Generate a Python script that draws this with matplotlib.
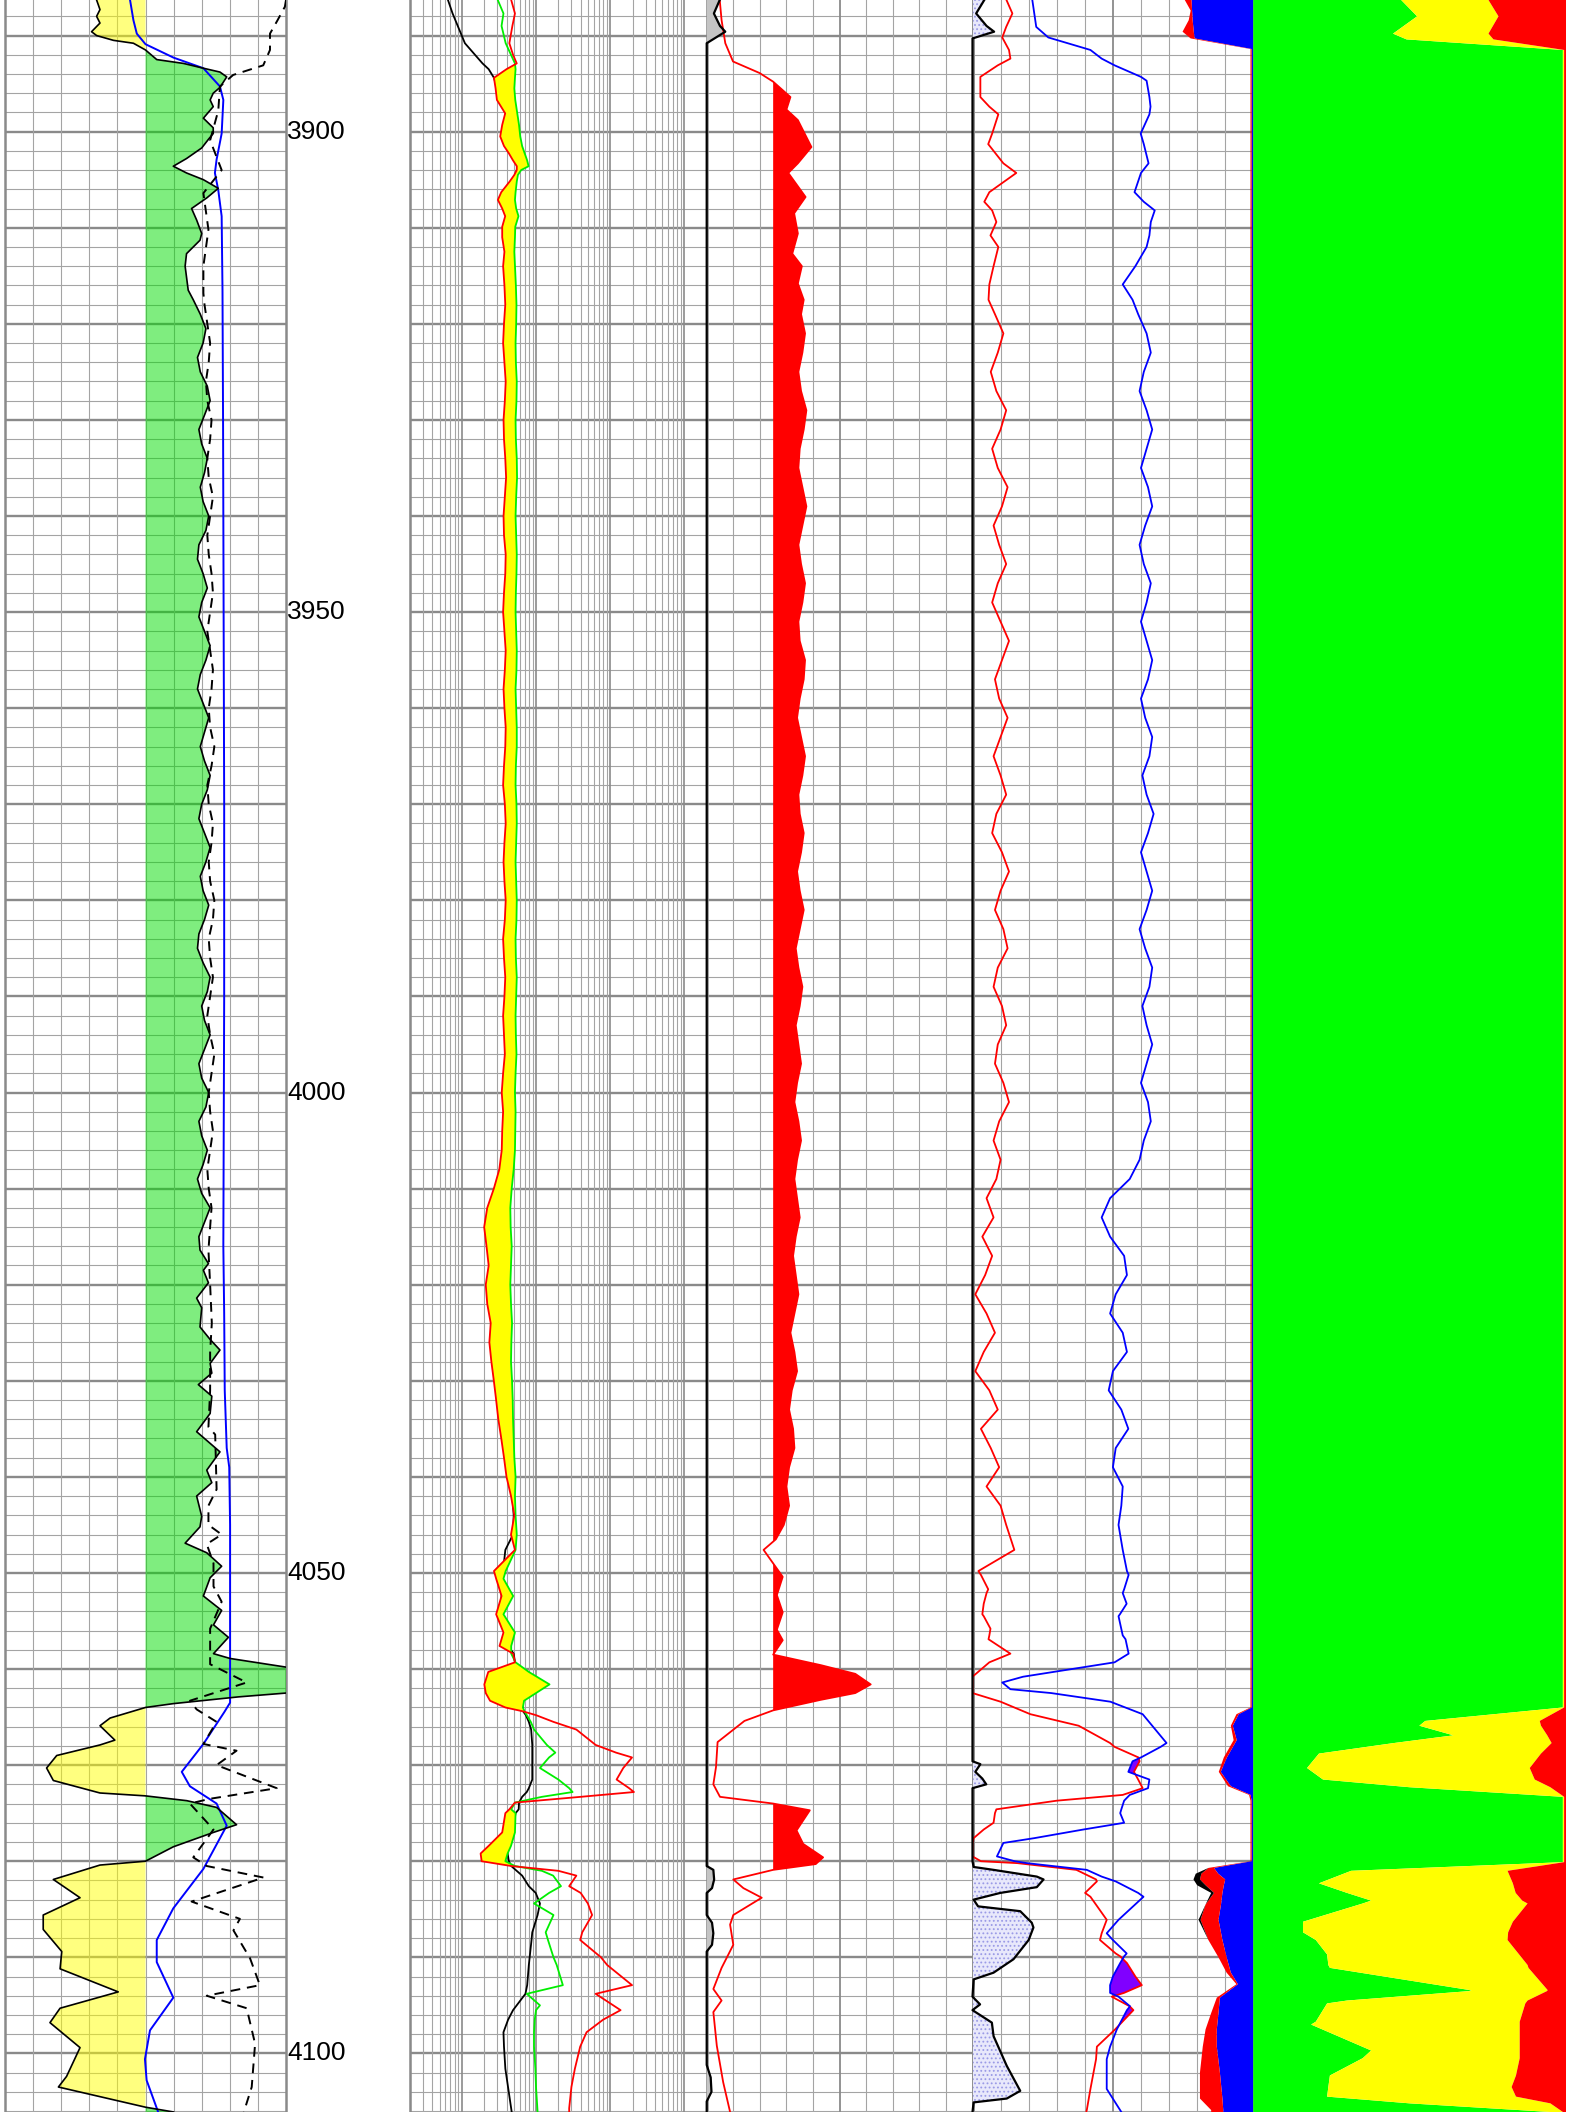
import matplotlib
matplotlib.use('Agg')
import matplotlib.pyplot as plt
import matplotlib.transforms as mtransforms
import numpy as np

plt.rcParams.update({
    'font.family': ['Liberation Sans', 'DejaVu Sans'],
    'hatch.linewidth': 0.8,
})

W, H = 1579, 2112
TOP, BASE = 3886.3, 4106.1

# ── Track 1: (depth, value in divisions 0-10) ───────────────
gr = [
    (3886.3, 3.26), (3887.3, 3.38), (3888.0, 3.26), (3888.7, 3.38), (3889.6, 3.08),
    (3890.0, 3.26), (3890.5, 3.86), (3890.8, 4.57), (3891.5, 5.0), (3892.5, 5.4),
    (3892.9, 6.35), (3893.4, 7.06), (3893.8, 7.65), (3894.3, 7.89), (3895.4, 7.65),
    (3896.0, 7.41), (3896.7, 7.30), (3897.4, 7.41), (3898.6, 7.06), (3899.6, 7.41),
    (3900.2, 7.41), (3900.8, 7.24), (3901.7, 7.00), (3902.8, 6.46), (3903.6, 5.99),
    (3904.3, 6.46), (3905.0, 7.06), (3905.9, 7.59), (3906.9, 7.18), (3908.0, 6.64),
    (3909.2, 6.82), (3910.6, 7.00), (3911.3, 6.94), (3912.7, 6.46), (3914.0, 6.41),
    (3916.5, 6.52), (3917.5, 6.7), (3919.0, 6.95), (3920.5, 7.15), (3922.0, 7.05),
    (3923.5, 6.85), (3925.0, 6.95), (3926.5, 7.2), (3928.0, 7.3), (3929.5, 7.1),
    (3931.0, 6.9), (3932.5, 7.0), (3934.0, 7.2), (3935.5, 7.1), (3937.0, 6.95),
    (3938.5, 7.05), (3940.0, 7.25), (3941.5, 7.15), (3943.0, 6.9), (3944.5, 6.85),
    (3946.0, 7.05), (3947.5, 7.2), (3949.0, 7.0), (3950.5, 6.9), (3952.0, 7.1),
    (3953.5, 7.3), (3955.0, 7.15), (3956.5, 6.95), (3958.0, 6.85), (3959.5, 7.05),
    (3961.0, 7.25), (3962.5, 7.1), (3964.0, 6.95), (3965.5, 7.1), (3967.0, 7.3),
    (3968.5, 7.2), (3970.0, 7.0), (3971.5, 6.9), (3973.0, 7.1), (3974.5, 7.3),
    (3976.0, 7.15), (3977.5, 6.95), (3979.0, 7.05), (3980.5, 7.25), (3982.0, 7.1),
    (3983.5, 6.9), (3985.0, 6.85), (3986.5, 7.05), (3988.0, 7.3), (3989.5, 7.2),
    (3991.0, 7.0), (3992.5, 7.1), (3994.0, 7.3), (3995.5, 7.1), (3997.0, 6.9),
    (3998.5, 7.0), (4000.0, 7.25), (4001.5, 7.15), (4003.0, 6.9), (4004.5, 7.0),
    (4006.0, 7.2), (4007.5, 7.05), (4009.0, 6.85), (4010.5, 7.0), (4012.0, 7.3),
    (4013.5, 7.1), (4015.0, 6.9), (4016.4, 6.94), (4017.8, 7.24), (4018.5, 7.06),
    (4019.8, 7.24), (4021.4, 6.82), (4022.4, 7.0), (4024.4, 6.94), (4025.7, 7.3),
    (4026.8, 7.65), (4028.2, 7.3), (4029.2, 7.36), (4030.4, 6.88), (4031.6, 7.36),
    (4033.4, 7.3), (4035.3, 6.82), (4037.4, 7.65), (4039.3, 7.18), (4040.6, 7.36),
    (4042.0, 6.82), (4044.1, 7.0), (4045.2, 6.94), (4046.9, 6.41), (4047.9, 7.18),
    (4049.3, 7.71), (4050.5, 7.3), (4052.4, 7.06), (4053.9, 7.71), (4055.4, 7.42),
    (4056.7, 7.95), (4058.4, 7.42), (4058.9, 8.01), (4059.8, 10.0), (4061.0, 12.0),
    (4062.5, 10.0), (4062.9, 8.3), (4063.6, 5.99), (4064.0, 5.0), (4065.1, 3.74),
    (4065.9, 3.38), (4067.4, 3.91), (4067.9, 3.38), (4069.0, 1.84), (4070.3, 1.48),
    (4071.6, 1.72), (4072.9, 3.38), (4073.2, 5.0), (4073.7, 6.47), (4074.4, 7.53),
    (4076.2, 8.24), (4077.0, 7.42), (4078.5, 5.99), (4080.0, 5.0), (4080.4, 3.38),
    (4081.9, 1.72), (4083.8, 2.67), (4085.6, 1.36), (4087.1, 1.36), (4089.4, 2.02),
    (4091.2, 1.96), (4093.6, 4.03), (4095.3, 1.96), (4096.8, 1.60), (4099.4, 2.67),
    (4102.4, 2.19), (4103.5, 1.90), (4105.6, 5.0), (4106.1, 6.0),
]

t1_blue = [
    (3886.3, 4.45), (3888.4, 4.57), (3889.8, 4.69), (3890.9, 5.0), (3892.3, 6.0),
    (3893.4, 7.06), (3895.3, 7.65), (3896.7, 7.77), (3900.2, 7.71), (3902.9, 7.53),
    (3904.3, 7.47), (3906.1, 7.59), (3908.8, 7.71), (3916.5, 7.74), (3930.0, 7.76),
    (3950.0, 7.78), (3970.0, 7.80), (3990.0, 7.80), (4016.0, 7.77), (4023.0, 7.80),
    (4031.0, 7.82), (4037.0, 7.89), (4039.0, 7.98), (4045.0, 8.01), (4058.8, 8.01),
    (4063.5, 8.01), (4064.5, 7.8), (4067.8, 7.06), (4070.7, 6.29), (4072.2, 6.58),
    (4074.0, 7.53), (4076.3, 7.89), (4080.8, 7.06), (4084.9, 5.99), (4088.2, 5.40),
    (4090.5, 5.40), (4094.2, 5.99), (4097.6, 5.16), (4100.6, 4.98), (4102.8, 5.04),
    (4106.1, 5.45),
]

t1_dash = [
    (3886.3, 10.0), (3887.0, 9.96), (3888.4, 9.7), (3889.8, 9.43), (3891.5, 9.43),
    (3893.1, 9.19), (3894.1, 8.12), (3895.3, 7.65), (3897.8, 7.59), (3900.9, 7.3),
    (3904.0, 7.71), (3906.4, 7.06), (3910.2, 7.24), (3914.0, 7.06), (3916.8, 7.06),
    (3918, 7.1), (3920, 7.2), (3922, 7.3), (3924, 7.25), (3926, 7.15), (3928, 7.2),
    (3930, 7.35), (3932, 7.3), (3934, 7.2), (3936, 7.25), (3938, 7.4), (3940, 7.3),
    (3942, 7.2), (3944, 7.25), (3946, 7.35), (3948, 7.4), (3950, 7.3), (3952, 7.2),
    (3954, 7.3), (3956, 7.4), (3958, 7.35), (3960, 7.25), (3962, 7.3), (3964, 7.45),
    (3966, 7.35), (3968, 7.2), (3970, 7.25), (3972, 7.4), (3974, 7.35), (3976, 7.25),
    (3978, 7.3), (3980, 7.45), (3982, 7.4), (3984, 7.25), (3986, 7.3), (3988, 7.4),
    (3990, 7.3), (3992, 7.2), (3994, 7.3), (3996, 7.45), (3998, 7.35), (4000, 7.25),
    (4002, 7.3), (4004, 7.4), (4006, 7.3), (4008, 7.2), (4010, 7.25), (4012, 7.35),
    (4014, 7.3), (4016.4, 7.24), (4020, 7.3), (4024, 7.36), (4027, 7.3), (4031, 7.3),
    (4034.8, 7.24), (4035.6, 7.48), (4041.3, 7.53), (4043, 7.24), (4045, 7.24),
    (4046, 7.71), (4047, 7.18), (4049, 7.42), (4051.4, 7.42), (4053.0, 7.71),
    (4055.8, 7.3), (4059.5, 7.3), (4061.4, 8.6), (4063.3, 6.58), (4064.2, 6.82),
    (4065.5, 7.53), (4067.8, 7.06), (4068.5, 8.24), (4070.0, 7.53), (4072.4, 9.67),
    (4073.5, 7.3), (4074.0, 6.58), (4076.7, 7.42), (4079.6, 6.7), (4080.5, 7.18),
    (4081.7, 9.2), (4084.2, 6.64), (4086.0, 8.36), (4087.2, 8.13), (4090.1, 8.72),
    (4092.9, 9.07), (4094.0, 7.18), (4095.3, 8.6), (4099.0, 8.9), (4103.5, 8.78),
    (4106.1, 8.5),
]

# ── Track 2: (depth, red, green, black) in ohm.m, log 0.2-2000 ──
t2 = [
    (3886.3, 4.63, 3.05, 0.65), (3887.7, 5.2, 3.64, 0.75), (3889.0, 4.8, 3.43, 0.88),
    (3890.8, 4.37, 3.9, 1.1), (3892.0, 4.9, 4.6, 1.5), (3892.9, 5.5, 5.2, 1.9),
    (3893.5, 4.0, 5.3, 2.3), (3894.4, 2.71, 5.2, 2.71), (3895.5, 2.85, 5.1, 3.0),
    (3896.7, 2.97, 5.25, 3.3), (3898.1, 3.84, 5.6, 4.2), (3899.3, 3.5, 5.9, 4.2),
    (3900.5, 3.29, 6.13, 4.0), (3901.5, 3.7, 6.5, 4.5), (3902.2, 4.26, 7.0, 5.0),
    (3903.0, 4.9, 7.6, 5.3), (3903.6, 5.51, 7.94, 5.6), (3904.0, 5.5, 6.3, 5.5),
    (3904.5, 5.1, 5.7, 5.3), (3905.2, 4.4, 5.5, 4.8), (3906.3, 3.4, 5.3, 4.2),
    (3907.1, 3.06, 5.2, 4.0), (3908.0, 3.5, 5.4, 4.3), (3908.8, 3.84, 5.8, 4.5),
    (3909.9, 3.5, 5.25, 4.2), (3911.0, 3.5, 5.2, 4.2), (3912.5, 3.75, 5.1, 4.3),
    (3914, 3.6, 5.2, 4.4), (3916, 3.75, 5.35, 4.55), (3918, 3.85, 5.45, 4.65),
    (3920, 3.7, 5.4, 4.5), (3922, 3.6, 5.3, 4.4), (3924, 3.75, 5.35, 4.55),
    (3926, 3.9, 5.5, 4.7), (3928, 3.8, 5.45, 4.6), (3930, 3.65, 5.3, 4.45),
    (3932, 3.7, 5.35, 4.5), (3934, 3.85, 5.5, 4.65), (3936, 3.95, 5.55, 4.75),
    (3938, 3.8, 5.4, 4.6), (3940, 3.65, 5.3, 4.45), (3942, 3.7, 5.4, 4.5),
    (3944, 3.9, 5.5, 4.7), (3946, 3.85, 5.45, 4.65), (3948, 3.7, 5.35, 4.5),
    (3950, 3.6, 5.3, 4.4), (3952, 3.75, 5.4, 4.55), (3954, 3.9, 5.5, 4.7),
    (3956, 3.8, 5.45, 4.6), (3958, 3.65, 5.3, 4.45), (3960, 3.75, 5.4, 4.55),
    (3962, 3.9, 5.5, 4.7), (3964, 3.85, 5.5, 4.65), (3966, 3.7, 5.35, 4.5),
    (3968, 3.6, 5.3, 4.4), (3970, 3.8, 5.45, 4.6), (3972, 3.9, 5.5, 4.7),
    (3974, 3.75, 5.4, 4.55), (3976, 3.65, 5.3, 4.45), (3978, 3.75, 5.4, 4.55),
    (3980, 3.9, 5.5, 4.7), (3982, 3.8, 5.45, 4.6), (3984, 3.6, 5.3, 4.4),
    (3986, 3.7, 5.35, 4.5), (3988, 3.85, 5.5, 4.65), (3990, 3.75, 5.4, 4.55),
    (3992, 3.6, 5.3, 4.4), (3994, 3.7, 5.35, 4.5), (3996, 3.8, 5.45, 4.6),
    (3998, 3.6, 5.3, 4.4), (4000, 3.45, 5.2, 4.3), (4002, 3.6, 5.3, 4.4),
    (4004, 3.5, 5.25, 4.35), (4006, 3.45, 5.2, 4.3), (4008, 3.2, 5.0, 4.1),
    (4010, 2.7, 4.7, 3.6), (4012, 2.2, 4.5, 3.2), (4014, 2.0, 4.55, 3.0),
    (4016, 2.15, 4.7, 3.2), (4018, 2.3, 4.6, 3.3), (4020, 2.1, 4.5, 3.1),
    (4022, 2.2, 4.6, 3.2), (4024, 2.45, 4.75, 3.4), (4026, 2.35, 4.65, 3.3),
    (4028, 2.5, 4.6, 3.4), (4030, 2.7, 4.75, 3.6), (4032, 2.9, 4.85, 3.8),
    (4034, 3.1, 4.9, 3.95), (4036, 3.4, 5.0, 4.1), (4038, 3.7, 5.1, 4.3),
    (4040, 4.0, 5.3, 4.6), (4042, 4.6, 5.2, 4.8), (4044, 5.1, 5.3, 5.0),
    (4046, 4.6, 5.5, 4.9),
    (4047.6, 5.2, 5.3, 3.86), (4049.8, 2.71, 3.9, 3.6), (4050.6, 2.9, 3.64, 3.5),
    (4052.4, 3.43, 4.92, 3.43), (4054.3, 2.9, 3.64, 3.43), (4056.2, 3.64, 5.2, 3.8),
    (4057.6, 3.22, 4.63, 4.2), (4058.4, 4.92, 4.63, 5.0), (4059.3, 5.2, 5.3, 5.2),
    (4060.3, 2.27, 8.0, 5.6), (4061.6, 2.01, 15.2, 6.0), (4062.5, 2.1, 10.0, 6.3),
    (4063.3, 2.4, 6.9, 6.6), (4064.0, 3.86, 6.65, 6.65), (4064.4, 6.65, 7.0, 6.7),
    (4064.8, 10.0, 7.5, 7.3), (4065.5, 17.2, 8.5, 8.0), (4066.3, 35.0, 9.4, 8.6),
    (4067.9, 63.7, 14.0, 8.9), (4068.7, 120.0, 18.2, 8.9), (4069.2, 197.0, 15.0, 8.9),
    (4070.3, 150.0, 11.3, 8.9), (4071.5, 122.0, 20.0, 8.9), (4072.4, 180.0, 28.0, 8.0),
    (4072.8, 209.0, 31.1, 7.5), (4073.3, 40.0, 12.0, 6.5), (4073.9, 5.2, 5.2, 5.9),
    (4074.6, 4.37, 4.63, 5.84), (4075.0, 3.86, 5.3, 5.3), (4077.0, 3.5, 5.2, 4.8),
    (4078.4, 2.3, 4.6, 4.3), (4079.2, 1.79, 4.14, 4.14), (4080.0, 1.85, 3.86, 4.3),
    (4080.5, 4.63, 5.2, 4.63), (4081.0, 20.0, 12.0, 5.5), (4081.5, 35.0, 17.0, 6.5),
    (4082.6, 28.0, 21.7, 8.0), (4083.3, 40.0, 15.0, 9.9), (4084.4, 50.0, 9.4, 11.3),
    (4085.6, 57.0, 17.2, 10.5), (4087.4, 42.0, 13.5, 8.9), (4088.2, 39.4, 14.5, 8.7),
    (4090.0, 75.0, 17.2, 8.2), (4090.8, 91.0, 19.0, 8.0), (4092.9, 197.0, 23.0, 7.6),
    (4093.8, 63.7, 7.5, 7.2), (4095.0, 110.0, 11.3, 5.5), (4095.5, 138.0, 10.0, 4.9),
    (4096.5, 80.0, 9.6, 4.2), (4097.8, 48.0, 9.4, 3.64), (4099.3, 39.4, 9.4, 3.7),
    (4101.6, 33.4, 9.8, 3.86), (4103.5, 30.0, 10.0, 4.2), (4105.7, 28.0, 10.4, 4.63),
    (4106.1, 28.0, 10.5, 4.7),
]

# ── Track 3: red (fill cut-off 2.5) and black, divisions 0-10 ──
t3_red = [
    (3886.3, 0.49), (3888.4, 0.56), (3890.8, 0.70), (3892.7, 0.99), (3893.9, 1.99),
    (3894.8, 2.5), (3896.4, 3.15), (3897.7, 3.0), (3898.8, 3.43), (3901.6, 3.94),
    (3903.3, 3.43), (3904.3, 3.07), (3906.8, 3.72), (3908.5, 3.29), (3910.6, 3.43),
    (3912.7, 3.22), (3914.0, 3.58), (3915.8, 3.43), (3917.5, 3.65),
    (3919, 3.55), (3921, 3.7), (3923, 3.6), (3925, 3.45), (3927, 3.55), (3929, 3.75),
    (3931, 3.65), (3933, 3.5), (3935, 3.45), (3937, 3.6), (3939, 3.75), (3941, 3.6),
    (3943, 3.45), (3945, 3.55), (3947, 3.7), (3949, 3.6), (3951, 3.45), (3953, 3.5),
    (3955, 3.7), (3957, 3.65), (3959, 3.5), (3961, 3.4), (3963, 3.55), (3965, 3.7),
    (3967, 3.6), (3969, 3.45), (3971, 3.5), (3973, 3.65), (3975, 3.55), (3977, 3.4),
    (3979, 3.5), (3981, 3.65), (3983, 3.5), (3985, 3.35), (3987, 3.45), (3989, 3.6),
    (3991, 3.5), (3993, 3.35), (3995, 3.45), (3997, 3.55), (3999, 3.4), (4001, 3.3),
    (4003, 3.45), (4005, 3.55), (4007, 3.4), (4009, 3.3), (4011, 3.4), (4013, 3.5),
    (4015, 3.35), (4017, 3.25), (4019, 3.35), (4021, 3.45), (4023, 3.3), (4025, 3.15),
    (4027, 3.3), (4029, 3.4), (4031, 3.2), (4033, 3.1), (4035, 3.25), (4037, 3.3),
    (4039, 3.1), (4041, 3.0), (4043, 3.1), (4045, 2.9), (4046.5, 2.6),
    (4047.6, 2.14), (4049.0, 2.5), (4050.4, 2.86), (4052.3, 2.64), (4054.1, 2.86),
    (4055.9, 2.64), (4057.0, 2.86), (4058.5, 2.5), (4059.6, 4.3), (4060.5, 5.59),
    (4061.6, 6.17), (4062.5, 5.59), (4063.2, 4.3), (4064.3, 2.5), (4065.4, 1.42),
    (4067.6, 0.41), (4070.2, 0.35), (4072.0, 0.25), (4073.3, 0.5), (4074.0, 2.5),
    (4074.7, 3.88), (4076.8, 3.38), (4078.2, 3.63), (4079.6, 4.38), (4080.3, 4.1),
    (4080.9, 2.5), (4081.9, 1.0), (4082.8, 1.38), (4083.8, 2.07), (4085.6, 1.0),
    (4086.6, 0.88), (4088.7, 1.0), (4091.1, 0.56), (4093.3, 0.25), (4094.5, 0.56),
    (4095.7, 0.25), (4099.2, 0.38), (4103.0, 0.62), (4106.1, 0.88),
]

t3_black = [
    (3886.3, 0.49), (3887.7, 0.27), (3889.0, 0.5), (3889.6, 0.7), (3890.8, 0.0),
    (4080.5, 0.0), (4080.9, 0.25), (4081.9, 0.28), (4082.8, 0.2), (4083.3, 0.0),
    (4085.6, 0.0), (4086.4, 0.2), (4087.5, 0.25), (4088.7, 0.2), (4089.4, 0.0),
    (4101.2, 0.0), (4102.5, 0.15), (4104.0, 0.18), (4105.0, 0.0), (4106.1, 0.0),
]

# ── Track 4: (depth, red, blue), divisions 0-10 ─────────────
t4 = [
    (3886.3, 1.21, 2.13), (3887.7, 1.42, 2.2), (3889.1, 1.2, 2.27), (3890.2, 1.06, 2.7),
    (3891.5, 1.3, 4.2), (3892.4, 1.35, 4.6), (3893.1, 0.9, 5.06), (3894.3, 0.28, 6.0),
    (3894.7, 0.28, 6.2), (3896.4, 0.28, 6.3), (3897.4, 0.6, 6.34), (3898.2, 0.92, 6.3),
    (3900.2, 0.7, 5.99), (3901.3, 0.56, 6.1), (3903.3, 1.1, 6.27), (3904.3, 1.56, 6.0),
    (3906.3, 0.6, 5.77), (3907.3, 0.42, 6.1), (3908.2, 0.7, 6.49), (3909.4, 0.85, 6.35),
    (3910.8, 0.64, 6.3), (3912.0, 0.92, 6.2), (3914.0, 0.75, 5.8), (3915.9, 0.6, 5.35),
    (3917.5, 0.57, 5.7),
    (3919, 0.8, 5.9), (3921, 1.1, 6.2), (3923, 0.9, 6.35), (3925, 0.65, 6.1),
    (3927, 0.85, 5.95), (3929, 1.2, 6.2), (3931, 1.0, 6.4), (3933, 0.7, 6.2),
    (3935, 0.9, 6.0), (3937, 1.25, 6.25), (3939, 1.05, 6.4), (3941, 0.75, 6.15),
    (3943, 0.95, 5.95), (3945, 1.2, 6.1), (3947, 0.9, 6.35), (3949, 0.7, 6.2),
    (3951, 1.0, 6.0), (3953, 1.3, 6.2), (3955, 1.05, 6.4), (3957, 0.8, 6.25),
    (3959, 0.95, 6.0), (3961, 1.25, 6.15), (3963, 1.0, 6.4), (3965, 0.75, 6.3),
    (3967, 1.0, 6.05), (3969, 1.2, 6.2), (3971, 0.85, 6.45), (3973, 0.7, 6.25),
    (3975, 1.05, 6.0), (3977, 1.3, 6.2), (3979, 1.0, 6.4), (3981, 0.8, 6.2),
    (3983, 1.1, 5.95), (3985, 1.25, 6.15), (3987, 0.9, 6.4), (3989, 0.75, 6.3),
    (3991, 1.05, 6.05), (3993, 1.2, 6.2), (3995, 0.9, 6.4), (3997, 0.8, 6.2),
    (3999, 1.1, 6.0), (4001, 1.3, 6.25), (4003, 0.95, 6.35), (4005, 0.75, 6.1),
    (4007, 1.0, 5.95), (4009, 0.85, 5.6), (4011, 0.5, 4.9), (4013, 0.75, 4.6),
    (4015, 0.35, 4.9), (4017, 0.7, 5.4), (4019, 0.45, 5.5), (4021, 0.1, 5.1),
    (4023, 0.5, 4.9), (4025, 0.8, 5.35), (4027, 0.4, 5.5), (4029, 0.1, 5.0),
    (4031, 0.6, 4.85), (4033, 0.9, 5.3), (4035, 0.3, 5.55), (4037, 0.65, 5.1),
    (4039, 0.95, 5.0), (4041, 0.5, 5.35), (4043, 1.0, 5.3), (4045, 1.2, 5.2),
    (4047.6, 1.49, 5.35), (4049.8, 0.21, 5.5), (4050.2, 0.3, 5.56), (4051.7, 0.56, 5.4),
    (4052.1, 0.5, 5.35), (4053.2, 0.4, 5.49), (4054.3, 0.35, 5.25), (4054.5, 0.4, 5.2),
    (4055.8, 0.64, 5.3), (4056.5, 0.6, 5.35), (4056.9, 0.57, 5.45), (4058.4, 1.35, 5.56),
    (4059.3, 0.6, 5.06), (4060.8, 0.0, 1.8), (4061.4, 0.0, 1.06), (4062.1, 0.0, 1.35),
    (4062.5, 0.0, 2.8), (4063.4, 1.0, 4.91), (4064.7, 2.06, 6.06), (4065.9, 3.78, 6.4),
    (4067.7, 4.9, 6.91), (4068.1, 5.06, 6.7), (4069.2, 5.91, 6.0), (4069.6, 5.95, 5.7),
    (4070.7, 5.75, 5.55), (4071.5, 5.9, 6.3), (4072.4, 6.06, 6.25), (4073.1, 5.35, 5.6),
    (4073.7, 3.0, 5.4), (4074.6, 0.85, 5.3), (4075.0, 0.8, 5.26), (4076.0, 0.75, 5.4),
    (4076.7, 0.4, 3.95), (4077.6, 0.04, 2.2), (4078.1, 0.0, 1.1), (4079.5, 0.0, 0.87),
    (4080.0, 0.3, 1.5), (4080.2, 1.6, 1.94), (4080.9, 3.7, 4.07), (4081.6, 4.19, 4.6),
    (4081.9, 4.4, 4.9), (4082.1, 4.43, 5.1), (4083.3, 4.01, 5.9), (4083.7, 4.2, 6.09),
    (4086.1, 4.78, 5.2), (4087.5, 4.6, 4.78), (4088.2, 4.54, 5.0), (4089.6, 5.1, 5.49),
    (4089.9, 5.26, 5.4), (4090.6, 5.5, 5.26), (4092.0, 5.8, 5.0), (4092.9, 6.03, 4.9),
    (4093.7, 5.4, 4.9), (4094.1, 4.96, 5.2), (4095.1, 5.6, 5.61), (4095.5, 5.73, 5.5),
    (4097.5, 5.08, 5.14), (4099.3, 4.43, 4.9), (4100.6, 4.4, 4.78), (4102.0, 4.31, 4.78),
    (4103.7, 4.2, 4.78), (4105.9, 4.07, 5.26), (4106.1, 4.05, 5.3),
]

t4_black = [
    (3886.3, 0.42), (3887.7, 0.13), (3889.0, 0.5), (3889.6, 0.77), (3890.3, 0.0),
    (4069.6, 0.0), (4069.9, 0.28), (4070.7, 0.1), (4071.4, 0.35), (4072.0, 0.49),
    (4072.4, 0.0), (4080.0, 0.0), (4080.6, 0.04), (4080.9, 0.75), (4081.6, 2.29),
    (4081.9, 2.53), (4082.7, 2.29), (4083.3, 0.99), (4084.0, 0.04), (4084.7, 0.2),
    (4085.2, 1.7), (4086.4, 2.11), (4086.9, 2.17), (4088.2, 2.0), (4090.2, 1.46),
    (4091.6, 0.75), (4092.3, 0.04), (4094.1, 0.0), (4094.9, 0.27), (4095.5, 0.0),
    (4096.8, 0.69), (4098.2, 0.75), (4101.3, 1.22), (4103.9, 1.7), (4104.7, 1.22),
    (4105.1, 0.04), (4106.1, 0.0),
]

# stacked fills at right of track 4: (depth, blue left, red left, black left)
t4_stack = [
    (3886.3, 7.8, 7.56, 7.56), (3887.4, 7.82, 7.77, 7.77), (3888.4, 7.84, 7.7, 7.7),
    (3889.6, 7.88, 7.48, 7.48), (3890.3, 7.91, 7.77, 7.77), (3891.4, 9.94, 9.9, 9.9),
    (4064.0, 9.94, 9.9, 9.9), (4064.7, 9.48, 9.4, 9.4), (4065.9, 9.27, 9.2, 9.2),
    (4067.4, 9.41, 9.3, 9.3), (4069.2, 9.06, 8.95, 8.95), (4070.7, 8.84, 8.77, 8.77),
    (4072.2, 9.2, 9.1, 9.1), (4073.1, 9.9, 9.85, 9.85), (4073.7, 9.94, 9.9, 9.9),
    (4080.0, 9.94, 9.9, 9.9), (4080.7, 8.6, 8.4, 8.4), (4081.3, 8.75, 8.15, 7.95),
    (4081.9, 9.0, 8.1, 7.87), (4082.5, 8.95, 8.3, 8.0), (4083.3, 8.9, 8.6, 8.5),
    (4084.5, 8.85, 8.3, 8.3), (4086.1, 8.76, 8.12, 8.05), (4088.2, 8.9, 8.4, 8.4),
    (4090.0, 9.05, 8.76, 8.76), (4091.6, 9.2, 9.05, 9.05), (4092.8, 9.45, 9.4, 9.4),
    (4094.2, 8.81, 8.7, 8.7), (4095.8, 8.76, 8.5, 8.5), (4097.5, 8.7, 8.3, 8.3),
    (4099.3, 8.7, 8.2, 8.2), (4102.0, 8.81, 8.1, 8.1), (4104.7, 8.9, 8.1, 8.1),
    (4105.9, 8.93, 8.5, 8.5), (4106.1, 8.93, 8.5, 8.5),
]

# ── Track 5: (depth, yellow left, red left) as fractions of width ──
t5 = [
    (3886.3, 0.473, 0.752), (3888.0, 0.524, 0.784), (3889.8, 0.447, 0.752),
    (3890.4, 0.49, 0.768), (3891.5, 0.99, 0.994), (4064.0, 0.99, 0.994),
    (4065.4, 0.55, 0.916), (4065.9, 0.531, 0.92), (4066.9, 0.64, 0.94),
    (4067.7, 0.45, 0.954), (4068.8, 0.21, 0.92), (4070.3, 0.172, 0.884),
    (4071.5, 0.223, 0.9), (4072.3, 0.5, 0.95), (4073.3, 0.99, 0.994),
    (4080.1, 0.99, 0.994), (4081.0, 0.313, 0.813), (4082.3, 0.21, 0.83),
    (4083.3, 0.3, 0.839), (4084.1, 0.377, 0.86), (4084.4, 0.35, 0.877),
    (4086.3, 0.159, 0.83), (4087.4, 0.159, 0.815), (4088.2, 0.2, 0.813),
    (4089.7, 0.236, 0.85), (4090.8, 0.24, 0.877), (4091.1, 0.245, 0.88),
    (4093.4, 0.69, 0.941), (4093.5, 0.698, 0.94), (4094.5, 0.3, 0.877),
    (4094.8, 0.236, 0.87), (4096.7, 0.2, 0.852), (4097.0, 0.185, 0.852),
    (4099.7, 0.377, 0.852), (4100.5, 0.35, 0.852), (4102.3, 0.245, 0.84),
    (4103.5, 0.24, 0.826), (4104.5, 0.236, 0.84), (4105.2, 0.5, 0.95),
    (4106.1, 0.95, 0.99),
]

depth_labels = [3900, 3950, 4000, 4050, 4100]

# ── Layout ──────────────────────────────────────────────────
fig = plt.figure(figsize=(W / 100, H / 100), dpi=100)
fig.patch.set_facecolor('white')

MINOR_C, MAJOR_C = '#a4a4a4', '#8a8a8a'


def cols(rows):
    return np.array(rows, dtype=float).T


def make_track(x0, x1, xlim, log=False):
    ax = fig.add_axes([x0 / W, 0, (x1 - x0) / W, 1])
    if log:
        ax.set_xscale('log')
    ax.set_xlim(*xlim)
    ax.set_ylim(BASE, TOP)
    ax.set_axis_off()
    return ax


def depth_grid(ax):
    for d in range(3888, 4107, 2):
        major = d % 10 == 0
        ax.axhline(d, color=MAJOR_C if major else MINOR_C,
                   lw=1.7 if major else 0.8, zorder=0.5)


def lin_grid(ax, dark_mid=False):
    for i in range(11):
        edge = i in (0, 10)
        mid = dark_mid and i == 5
        ax.axvline(i, color=MAJOR_C if (edge or mid) else MINOR_C,
                   lw=1.8 if edge else (1.3 if mid else 0.8),
                   zorder=0.5, clip_on=False)


# Track 1
ax1 = make_track(5, 286, (0, 10))
depth_grid(ax1)
lin_grid(ax1)
gd, gv = cols(gr)
ax1.fill_betweenx(gd, 5, gv, where=gv >= 5, interpolate=True,
                  color='#00dd00', alpha=0.5, lw=0, zorder=1)
ax1.fill_betweenx(gd, 5, gv, where=gv <= 5, interpolate=True,
                  color='#ffff00', alpha=0.5, lw=0, zorder=1)
bd, bv = cols(t1_blue)
ax1.plot(bv, bd, color='#0000ff', lw=1.4, zorder=2)
dd, dv = cols(t1_dash)
ax1.plot(dv, dd, color='black', lw=1.4, linestyle=(0, (5, 3.5)), zorder=2)
ax1.plot(gv, gd, color='black', lw=1.2, zorder=3)

trans = mtransforms.blended_transform_factory(ax1.transAxes, ax1.transData)
for d in depth_labels:
    ax1.text(1.004, d, str(d), transform=trans, ha='left', va='center',
             fontsize=19, color='black', clip_on=False)

# Track 2 (log)
ax2 = make_track(410, 706.7, (0.2, 2000), log=True)
depth_grid(ax2)
for dec in [0.1, 1, 10, 100, 1000]:
    for k in range(1, 10):
        v = k * dec
        if 0.2 * 0.999 <= v <= 2000 * 1.001:
            ax2.axvline(v, color=MAJOR_C if k == 1 else MINOR_C,
                        lw=1.2 if k == 1 else 0.8, zorder=0.5, clip_on=False)
ax2.axvline(0.2, color=MAJOR_C, lw=1.8, zorder=0.5, clip_on=False)
d2, r2, g2, k2 = cols(t2)
ax2.plot(k2, d2, color='black', lw=1.3, zorder=2)
ax2.fill_betweenx(d2, r2, g2, where=r2 <= g2, interpolate=True,
                  color='#ffff00', lw=0, zorder=3)
ax2.plot(g2, d2, color='#00ee00', lw=1.3, zorder=4)
ax2.plot(r2, d2, color='#ff0000', lw=1.3, zorder=4)

# Track 3
ax3 = make_track(706.7, 972.5, (0, 10))
depth_grid(ax3)
lin_grid(ax3, dark_mid=True)
rd, rv = cols(t3_red)
ax3.fill_betweenx(rd, 2.5, rv, where=rv >= 2.5, interpolate=True,
                  color='#ff0000', lw=0, zorder=1)
ax3.plot(rv, rd, color='#ff0000', lw=1.3, zorder=2)
kd, kv = cols(t3_black)
ax3.fill_betweenx(kd, 0, kv, color='#c4c4c4', lw=0, zorder=1)
ax3.plot(kv, kd, color='black', lw=1.6, zorder=3, clip_on=False)

# Track 4
ax4 = make_track(972.5, 1253.3, (0, 10))
depth_grid(ax4)
lin_grid(ax4, dark_mid=True)
d4, r4, b4 = cols(t4)
ax4.fill_betweenx(d4, b4, r4, where=b4 < r4, interpolate=True,
                  color='#8000ff', lw=0, zorder=1.5)
ax4.plot(r4, d4, color='#ff0000', lw=1.3, zorder=2)
ax4.plot(b4, d4, color='#0000ff', lw=1.3, zorder=2)
kd4, kv4 = cols(t4_black)
ax4.fill_betweenx(kd4, 0, kv4, facecolor='#e8e8fb', hatch='....',
                  edgecolor='#9a9ae6', lw=0, zorder=1)
ax4.plot(kv4, kd4, color='black', lw=1.6, zorder=3, clip_on=False)
sd, sb, sr, sk = cols(t4_stack)
ax4.fill_betweenx(sd, sb, 10, color='#0000ff', lw=0, zorder=1.6)
ax4.fill_betweenx(sd, sr, sb, color='#ff0000', lw=0, zorder=1.6)
ax4.fill_betweenx(sd, sk, sr, color='black', lw=0, zorder=1.6)

# Track 5
ax5 = make_track(1253.3, 1566, (0, 1))
d5, y5, r5 = cols(t5)
ax5.fill_betweenx(d5, 0, y5, color='#00ff00', lw=0)
ax5.fill_betweenx(d5, y5, r5, color='#ffff00', lw=0)
ax5.fill_betweenx(d5, r5, 1, color='#ff0000', lw=0)

fig.savefig('out.png', dpi=100, facecolor='white')
